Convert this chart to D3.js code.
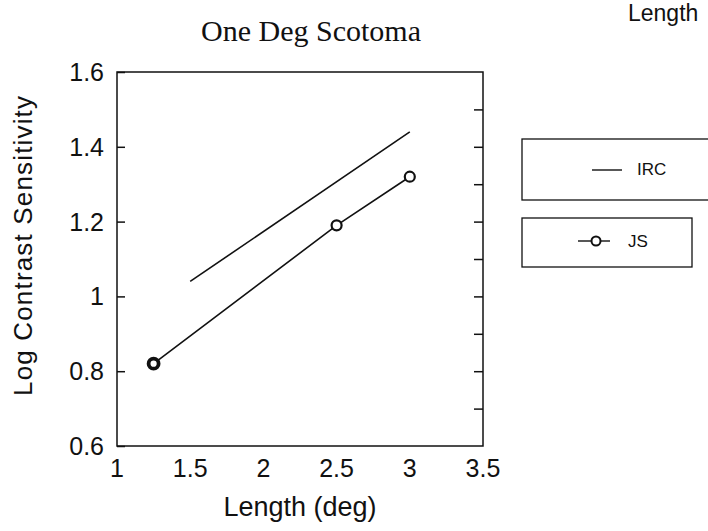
<!DOCTYPE html>
<html>
<head>
<meta charset="utf-8">
<script src="https://cdn.jsdelivr.net/npm/d3@7"></script>
<style>
    body { margin: 0; background: #fff; }
    svg { display: block; }
    text { fill: #111; }
</style>
</head>
<body>
<div id="chart"></div>
<script>
// data
var xTicks = [1, 1.5, 2, 2.5, 3, 3.5];
var yTicks = [0.6, 0.8, 1, 1.2, 1.4, 1.6];
var yMinorTicks = [0.7, 0.8, 0.9, 1, 1.1, 1.2, 1.3, 1.4, 1.5];
var ircLength = [1.5, 3.0];
var ircSens = [1.04, 1.44];
var jsLength = [1.25, 2.5, 3.0];
var jsSens = [0.82, 1.19, 1.32];
var seriesNames = ['IRC', 'JS'];

var width = 708,
    height = 531,
    sans = 'Liberation Sans, Arial, sans-serif',
    serif = 'Liberation Serif, Times New Roman, serif',
    svg, x, y, line;

svg = d3.select('#chart').append('svg')
    .attr('width', width)
    .attr('height', height);

x = d3.scaleLinear().domain([1, 3.5]).range([117, 483]);
y = d3.scaleLinear().domain([0.6, 1.6]).range([446, 72]);

line = d3.line()
    .x(function (d) { return x(d[0]); })
    .y(function (d) { return y(d[1]); });

// frame
svg.append('rect')
    .attr('x', x(1))
    .attr('y', y(1.6))
    .attr('width', x(3.5) - x(1))
    .attr('height', y(0.6) - y(1.6))
    .attr('fill', 'none')
    .attr('stroke', '#111')
    .attr('stroke-width', 1.5);

// left ticks (inward) with labels
svg.append('g')
    .attr('transform', 'translate(' + x(1) + ',0)')
    .call(d3.axisRight(y).tickValues(yTicks).tickSize(8).tickFormat(''))
    .call(function (g) {
        g.select('.domain').remove();
        g.selectAll('line').attr('stroke', '#111').attr('stroke-width', 1.5);
    });

svg.append('g').selectAll('text')
    .data(yTicks)
    .enter().append('text')
    .attr('x', 104)
    .attr('y', function (d) { return y(d); })
    .attr('dy', '0.36em')
    .attr('text-anchor', 'end')
    .attr('font-family', sans)
    .attr('font-size', 25)
    .text(function (d) { return d3.format('')(d); });

// right minor ticks (inward)
svg.append('g')
    .attr('transform', 'translate(' + x(3.5) + ',0)')
    .call(d3.axisLeft(y).tickValues(yMinorTicks).tickSize(9).tickFormat(''))
    .call(function (g) {
        g.select('.domain').remove();
        g.selectAll('line').attr('stroke', '#111').attr('stroke-width', 1.5);
    });

// x tick labels
svg.append('g').selectAll('text')
    .data(xTicks)
    .enter().append('text')
    .attr('x', function (d) { return x(d); })
    .attr('y', 477)
    .attr('text-anchor', 'middle')
    .attr('font-family', sans)
    .attr('font-size', 25)
    .text(function (d) { return d3.format('')(d); });

// titles
svg.append('text')
    .attr('x', 311)
    .attr('y', 41)
    .attr('text-anchor', 'middle')
    .attr('font-family', serif)
    .attr('font-size', 30)
    .text('One Deg Scotoma');

svg.append('text')
    .attr('x', 628)
    .attr('y', 21)
    .attr('font-family', sans)
    .attr('font-size', 23)
    .text('Length');

svg.append('text')
    .attr('x', 300)
    .attr('y', 516)
    .attr('text-anchor', 'middle')
    .attr('font-family', sans)
    .attr('font-size', 27)
    .text('Length (deg)');

svg.append('text')
    .attr('transform', 'translate(32,246) rotate(-90)')
    .attr('text-anchor', 'middle')
    .attr('font-family', sans)
    .attr('font-size', 26)
    .attr('textLength', 300)
    .text('Log Contrast Sensitivity');

// IRC fit line
svg.append('path')
    .datum(d3.zip(ircLength, ircSens))
    .attr('d', line)
    .attr('fill', 'none')
    .attr('stroke', '#111')
    .attr('stroke-width', 1.6);

// JS data
svg.append('path')
    .datum(d3.zip(jsLength, jsSens))
    .attr('d', line)
    .attr('fill', 'none')
    .attr('stroke', '#111')
    .attr('stroke-width', 1.6);

svg.append('g').selectAll('circle')
    .data(d3.zip(jsLength, jsSens))
    .enter().append('circle')
    .attr('cx', function (d) { return x(d[0]); })
    .attr('cy', function (d) { return y(d[1]); })
    .attr('r', 5)
    .attr('fill', '#fff')
    .attr('stroke', '#111')
    .attr('stroke-width', function (d, i) { return i === 0 ? 3.8 : 2.2; });

// legend boxes
var legend = svg.append('g');

legend.append('rect')
    .attr('x', 522).attr('y', 139)
    .attr('width', 200).attr('height', 61)
    .attr('fill', 'none').attr('stroke', '#111').attr('stroke-width', 1.3);

legend.append('line')
    .attr('x1', 592).attr('x2', 622)
    .attr('y1', 170).attr('y2', 170)
    .attr('stroke', '#111').attr('stroke-width', 1.4);

legend.append('text')
    .attr('x', 637).attr('y', 169)
    .attr('dy', '0.36em')
    .attr('font-family', sans)
    .attr('font-size', 17)
    .text(seriesNames[0]);

legend.append('rect')
    .attr('x', 522).attr('y', 218)
    .attr('width', 170).attr('height', 49)
    .attr('fill', 'none').attr('stroke', '#111').attr('stroke-width', 1.3);

legend.append('line')
    .attr('x1', 578).attr('x2', 610)
    .attr('y1', 241).attr('y2', 241)
    .attr('stroke', '#111').attr('stroke-width', 1.4);

legend.append('circle')
    .attr('cx', 596).attr('cy', 241).attr('r', 4.5)
    .attr('fill', '#fff').attr('stroke', '#111').attr('stroke-width', 2);

legend.append('text')
    .attr('x', 628).attr('y', 241)
    .attr('dy', '0.36em')
    .attr('font-family', sans)
    .attr('font-size', 17)
    .text(seriesNames[1]);
</script>
</body>
</html>
